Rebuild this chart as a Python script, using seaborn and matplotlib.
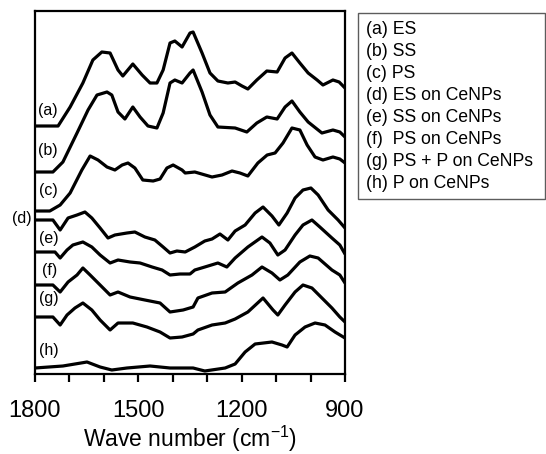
import numpy as np
import pandas as pd
import matplotlib
matplotlib.use("Agg")
import matplotlib.pyplot as plt
from matplotlib.lines import Line2D
import seaborn as sns

# ---- data (wavenumber, offset absorbance, arbitrary units) ----
wn_a = [1800, 1733, 1698, 1661, 1632, 1606, 1582, 1559, 1545, 1516, 1489, 1466, 1446, 1428, 1408, 1394, 1373, 1350,
        1341, 1315, 1292, 1269, 1240, 1219, 1199, 1182, 1156, 1127, 1097, 1074, 1054, 1031, 1007, 981, 964, 935, 917, 900]
ab_a = [248, 248, 267, 291, 314, 322, 321, 304, 298, 310, 299, 291, 291, 304, 331, 333, 327, 341,
        342, 321, 301, 293, 291, 292, 288, 285, 294, 303, 302, 316, 321, 311, 301, 294, 289, 294, 292, 286]

wn_b = [1800, 1748, 1719, 1678, 1646, 1620, 1591, 1577, 1559, 1539, 1516, 1495, 1472, 1446, 1428, 1408, 1394, 1373,
        1350, 1341, 1315, 1292, 1269, 1219, 1185, 1156, 1127, 1097, 1074, 1054, 1031, 1007, 967, 935, 915, 900]
ab_b = [202, 202, 212, 241, 264, 279, 282, 279, 262, 255, 267, 257, 248, 246, 261, 291, 294, 291,
        301, 304, 282, 259, 247, 246, 242, 251, 257, 255, 267, 273, 262, 252, 241, 244, 242, 237]

wn_c = [1800, 1757, 1727, 1698, 1664, 1640, 1617, 1591, 1568, 1547, 1530, 1510, 1487, 1457, 1437, 1417, 1399, 1373,
        1364, 1336, 1286, 1257, 1228, 1205, 1182, 1153, 1126, 1103, 1080, 1054, 1031, 1010, 987, 964, 935, 915, 900]
ab_c = [163, 163, 169, 181, 204, 218, 214, 207, 204, 209, 211, 206, 194, 193, 195, 206, 209, 204,
        201, 202, 197, 199, 203, 201, 198, 211, 219, 221, 231, 246, 244, 229, 217, 214, 217, 215, 211]

wn_d = [1800, 1748, 1727, 1704, 1678, 1655, 1635, 1611, 1588, 1568, 1533, 1510, 1481, 1452, 1428, 1408, 1388, 1364,
        1336, 1307, 1286, 1263, 1240, 1219, 1190, 1161, 1138, 1112, 1092, 1068, 1045, 1022, 999, 978, 949, 920, 900]
ab_d = [154, 154, 144, 156, 159, 162, 156, 146, 136, 139, 141, 142, 137, 134, 127, 121, 123, 122,
        127, 133, 135, 140, 134, 143, 149, 161, 167, 158, 149, 161, 176, 184, 186, 179, 164, 154, 146]

wn_e = [1800, 1742, 1727, 1707, 1690, 1661, 1635, 1611, 1582, 1559, 1524, 1495, 1460, 1431, 1408, 1379, 1350, 1336,
        1307, 1269, 1243, 1219, 1182, 1141, 1118, 1095, 1074, 1045, 1022, 996, 973, 938, 915, 900]
ab_e = [122, 122, 116, 124, 129, 132, 127, 119, 111, 114, 112, 111, 107, 104, 99, 100, 100, 104,
        107, 111, 107, 116, 127, 137, 131, 119, 124, 139, 149, 154, 147, 136, 129, 120]

wn_f = [1800, 1748, 1727, 1704, 1678, 1661, 1640, 1611, 1582, 1559, 1524, 1481, 1437, 1408, 1370, 1341, 1327, 1286,
        1248, 1211, 1170, 1141, 1112, 1089, 1066, 1031, 1002, 978, 938, 915, 900]
ab_f = [89, 89, 82, 92, 99, 106, 99, 89, 79, 82, 77, 74, 71, 62, 64, 67, 76, 81,
        82, 91, 99, 107, 101, 94, 99, 112, 118, 116, 104, 99, 91]

wn_g = [1800, 1748, 1727, 1707, 1684, 1661, 1635, 1611, 1582, 1559, 1516, 1475, 1437, 1408, 1373, 1341, 1327, 1286,
        1248, 1219, 1182, 1138, 1109, 1095, 1074, 1045, 1022, 996, 967, 938, 915, 900]
ab_g = [57, 57, 49, 59, 66, 71, 64, 54, 44, 51, 51, 47, 42, 36, 37, 40, 44, 49,
        51, 55, 62, 76, 64, 59, 69, 82, 89, 86, 76, 66, 57, 52]

wn_h = [1800, 1719, 1649, 1611, 1577, 1533, 1466, 1408, 1341, 1307, 1248, 1219, 1190, 1161, 1112, 1083, 1068, 1045,
        1016, 987, 958, 929, 900]
ab_h = [6, 8, 12, 7, 4, 6, 8, 6, 6, 3, 6, 10, 22, 30, 32, 29, 27, 39,
        47, 51, 49, 42, 36]

curve_keys = ["a", "b", "c", "d", "e", "f", "g", "h"]
legend_labels = ["(a) ES", "(b) SS", "(c) PS", "(d) ES on CeNPs", "(e) SS on CeNPs",
                 "(f)  PS on CeNPs", "(g) PS + P on CeNPs", "(h) P on CeNPs"]
curve_tags = ["(a)", "(b)", "(c)", "(d)", "(e)", "(f)", "(g)", "(h)"]
tick_values = [1800, 1700, 1600, 1500, 1400, 1300, 1200, 1100, 1000, 900]
tick_labels = ["1800", "", "", "1500", "", "", "1200", "", "", "900"]

series = {"a": (wn_a, ab_a), "b": (wn_b, ab_b), "c": (wn_c, ab_c), "d": (wn_d, ab_d),
          "e": (wn_e, ab_e), "f": (wn_f, ab_f), "g": (wn_g, ab_g), "h": (wn_h, ab_h)}

frames = []
for k in curve_keys:
    w, a = series[k]
    frames.append(pd.DataFrame({"wn": w, "ab": a, "sample": k}))
df = pd.concat(frames, ignore_index=True)

# ---- style ----
sns.set_theme(style="white")
plt.rcParams["font.family"] = ["Liberation Sans", "DejaVu Sans"]
plt.rcParams["mathtext.fontset"] = "custom"
plt.rcParams["mathtext.rm"] = "Liberation Sans"
plt.rcParams["text.color"] = "black"
plt.rcParams["axes.labelcolor"] = "black"
plt.rcParams["xtick.color"] = "black"
plt.rcParams["xtick.labelcolor"] = "black"

fig = plt.figure(figsize=(5.46, 4.54), dpi=100)
ax = fig.add_axes([35 / 546, 1 - 374 / 454, 310 / 546, 363 / 454])

sns.lineplot(data=df, x="wn", y="ab", hue="sample", units="sample", estimator=None,
             palette={k: "black" for k in curve_keys}, legend=False, sort=False,
             linewidth=2.3, ax=ax)
for ln in ax.lines:
    ln.set_solid_joinstyle("round")
    ln.set_solid_capstyle("round")

ax.set_xlim(1800, 900)
ax.set_ylim(0, 363)
ax.set_yticks([])
ax.set_ylabel("")
ax.set_xticks(tick_values)
ax.set_xticklabels(tick_labels, fontsize=17)
ax.tick_params(axis="x", direction="out", length=6, width=1.6, color="black",
               labelcolor="black", pad=13, bottom=True)
for sp in ax.spines.values():
    sp.set_linewidth(1.6)
    sp.set_color("black")
ax.set_xlabel(r"Wave number (cm$^{\mathregular{-1}}$)", fontsize=16.5, labelpad=1,
              color="black")

# curve tags (in data coordinates)
tag_x = [1791, 1791, 1787, 1867, 1787, 1780, 1787, 1787]
tag_y = [264, 224, 183, 156, 136, 104, 76, 24]
for t, xx, yy in zip(curve_tags, tag_x, tag_y):
    ax.text(xx, yy, t, fontsize=11.5, ha="left", va="center", clip_on=False,
            color="black")

# legend box
handles = [Line2D([], [], linestyle="none") for _ in legend_labels]
leg = fig.legend(handles, legend_labels, loc="upper left",
                 bbox_to_anchor=(358 / 546, 1 - 13 / 454 - 0.01, 187 / 546, 0.01),
                 bbox_transform=fig.transFigure, mode="expand", borderaxespad=0,
                 handlelength=0, handletextpad=0, fontsize=12.7, labelspacing=0.28,
                 frameon=True, fancybox=False, borderpad=0.45)
leg.get_frame().set_edgecolor("#333333")
leg.get_frame().set_linewidth(1.0)
for t in leg.get_texts():
    t.set_color("black")

fig.savefig("out.png", dpi=100)
